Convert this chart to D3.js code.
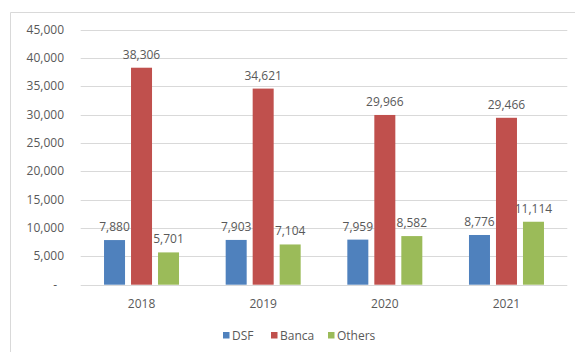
<!DOCTYPE html>
<html>
<head>
  <meta charset="utf-8">
  <script src="https://d3js.org/d3.v7.min.js"></script>
  <style>
    body { margin: 0; background: #fff; }
    text { font-family: "Open Sans", sans-serif; fill: #595959; }
  </style>
</head>
<body>
<script type="text/javascript">
"use strict";

// chart data
var years = ["2018", "2019", "2020", "2021"];
var series = ["DSF", "Banca", "Others"];
var dsf = [7880, 7903, 7959, 8776];
var banca = [38306, 34621, 29966, 29466];
var others = [5701, 7104, 8582, 11114];
var colors = ["#4f81bd", "#c0504d", "#9bbb59"];
var yTicks = [0, 5000, 10000, 15000, 20000, 25000, 30000, 35000, 40000, 45000];

var values = { DSF: dsf, Banca: banca, Others: others };

var width = 575, height = 352;
var plotLeft = 80.7, plotRight = 567.3, plotTop = 29.8, plotBottom = 284.7;

var svg = d3.select("body").append("svg")
    .attr("width", width)
    .attr("height", height);

// outer frame (top + left edge visible)
svg.append("path")
    .attr("d", "M10.5,352 V12.5 H575")
    .style("fill", "none")
    .style("stroke", "#d9d9d9");

var y = d3.scaleLinear().domain([0, 45000]).range([plotBottom, plotTop]);

var x0 = d3.scaleBand().domain(years).range([plotLeft, plotRight]).padding(0);
var x1 = d3.scaleBand().domain(series).range([0, x0.bandwidth()])
    .paddingInner(0.222).paddingOuter(0.864);

// gridlines
svg.append("g").selectAll("line")
    .data(yTicks)
    .join("line")
    .attr("x1", plotLeft)
    .attr("x2", plotRight)
    .attr("y1", function(d) { return Math.round(y(d)) + 0.5; })
    .attr("y2", function(d) { return Math.round(y(d)) + 0.5; })
    .style("stroke", "#d9d9d9");

// y tick labels
var fmt = d3.format(",");
svg.append("g").selectAll("text")
    .data(yTicks)
    .join("text")
    .attr("x", function(d) { return d === 0 ? 57 : 64; })
    .attr("y", function(d) { return y(d) + 4; })
    .attr("text-anchor", "end")
    .style("font-size", "12px")
    .text(function(d) { return d === 0 ? "-" : fmt(d); });

// bars
var groups = svg.append("g").selectAll("g")
    .data(years)
    .join("g")
    .attr("transform", function(d) { return "translate(" + x0(d) + ",0)"; });

groups.selectAll("rect")
    .data(function(d, i) { return series.map(function(s) { return { s: s, v: values[s][i] }; }); })
    .join("rect")
    .attr("x", function(d) { return x1(d.s); })
    .attr("width", x1.bandwidth())
    .attr("y", function(d) { return y(d.v); })
    .attr("height", function(d) { return plotBottom - y(d.v); })
    .style("fill", function(d) { return colors[series.indexOf(d.s)]; });

groups.selectAll("text")
    .data(function(d, i) { return series.map(function(s) { return { s: s, v: values[s][i] }; }); })
    .join("text")
    .attr("x", function(d) { return x1(d.s) + x1.bandwidth() / 2; })
    .attr("y", function(d) { return y(d.v) - 9; })
    .attr("text-anchor", "middle")
    .style("font-size", "12px")
    .text(function(d) { return fmt(d.v); });

// x labels
svg.append("g").selectAll("text")
    .data(years)
    .join("text")
    .attr("x", function(d) { return x0(d) + x0.bandwidth() / 2; })
    .attr("y", 308)
    .attr("text-anchor", "middle")
    .style("font-size", "12px")
    .text(function(d) { return d; });

// legend
var legendX = [223, 271, 328];
var legend = svg.append("g").selectAll("g")
    .data(series)
    .join("g")
    .attr("transform", function(d, i) { return "translate(" + legendX[i] + ",332)"; });

legend.append("rect")
    .attr("width", 6.5)
    .attr("height", 6.5)
    .style("fill", function(d, i) { return colors[i]; });

legend.append("text")
    .attr("x", 9)
    .attr("y", 7.5)
    .style("font-size", "12px")
    .text(function(d) { return d; });
</script>
</body>
</html>
